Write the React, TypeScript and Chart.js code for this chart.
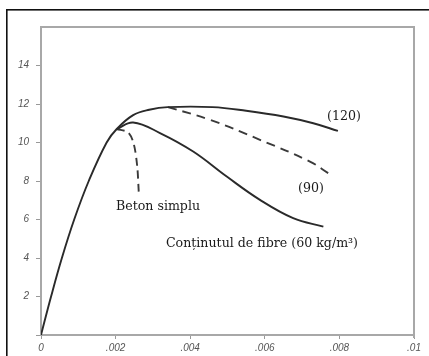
import React, { useEffect, useRef } from "react";
import { Chart, registerables } from "chart.js";

Chart.register(...registerables);

// Axis ticks
const xTickValues = [0, 0.002, 0.004, 0.006, 0.008, 0.01];
const xTickLabels = ["0", ".002", ".004", ".006", ".008", ".01"];
const yTickValues = [0, 2, 4, 6, 8, 10, 12, 14];
const yTickLabels = ["", "2", "4", "6", "8", "10", "12", "14"];

// Curve (120) - solid
const fiber120X = [0, 0.00027, 0.00056, 0.00089, 0.00128, 0.00176, 0.00203, 0.00247, 0.0029, 0.0034, 0.0046, 0.0055, 0.0065, 0.0073, 0.00796];
const fiber120Y = [0, 2, 4, 6, 8, 10, 10.7, 11.42, 11.7, 11.84, 11.84, 11.65, 11.35, 11.0, 10.6];

// Curve (90) - dashed
const fiber90X = [0.0034, 0.00453, 0.00587, 0.00721, 0.0077];
const fiber90Y = [11.84, 11.18, 10.14, 9.01, 8.41];

// Curve (60) - solid
const fiber60X = [0.00203, 0.00247, 0.00319, 0.00408, 0.00498, 0.00587, 0.00676, 0.00757];
const fiber60Y = [10.7, 11.04, 10.49, 9.53, 8.23, 7.02, 6.07, 5.63];

// Beton simplu - dashed
const plainX = [0.00203, 0.00234, 0.00249, 0.00258, 0.00262];
const plainY = [10.7, 10.52, 9.9, 8.75, 7.45];

// Curve labels (text + data-space anchor, left/middle)
const labelTexts = ["(120)", "(90)", "Beton simplu", "Conținutul de fibre (60 kg/m³)"];
const labelXs = [0.00767, 0.00689, 0.00201, 0.00335];
const labelYs = [11.34, 7.59, 6.66, 4.73];

const zip = (xs: number[], ys: number[]) => xs.map((x, i) => ({ x, y: ys[i] }));

const framePlugin = {
  id: "frame",
  beforeDraw(chart: any) {
    const ctx = chart.ctx;
    ctx.save();
    ctx.fillStyle = "#ffffff";
    ctx.fillRect(0, 0, chart.width, chart.height);
    ctx.fillStyle = "#111111";
    ctx.fillRect(6, 9, 1.6, chart.height - 9);
    ctx.fillRect(6, 9, chart.width - 6, 1.6);
    ctx.restore();
  },
  afterDraw(chart: any) {
    const ctx = chart.ctx;
    const a = chart.chartArea;
    ctx.save();
    ctx.strokeStyle = "#a8a8a8";
    ctx.lineWidth = 2;
    ctx.beginPath();
    ctx.moveTo(a.left, a.top);
    ctx.lineTo(a.right, a.top);
    ctx.lineTo(a.right, a.bottom + 3);
    ctx.stroke();
    const xs = chart.scales.x;
    const ys = chart.scales.y;
    ctx.fillStyle = "#1a1a1a";
    ctx.font = "12.6px 'DejaVu Serif'";
    ctx.textAlign = "left";
    ctx.textBaseline = "middle";
    labelTexts.forEach((t, i) => {
      ctx.fillText(t, xs.getPixelForValue(labelXs[i]), ys.getPixelForValue(labelYs[i]));
    });
    ctx.restore();
  },
};

export default function App() {
  const ref = useRef<HTMLCanvasElement | null>(null);
  useEffect(() => {
    if (!ref.current) return;
    const lineBase = {
      showLine: true,
      pointRadius: 0,
      borderColor: "#2a2a2a",
      borderWidth: 1.9,
      fill: false,
      tension: 0.4,
    };
    const chart = new Chart(ref.current, {
      type: "scatter",
      data: {
        datasets: [
          { ...lineBase, label: "(120)", data: zip(fiber120X, fiber120Y) },
          { ...lineBase, label: "(90)", data: zip(fiber90X, fiber90Y), borderDash: [9, 6], borderColor: "#3a3a3a" },
          { ...lineBase, label: "(60)", data: zip(fiber60X, fiber60Y) },
          { ...lineBase, label: "Beton simplu", data: zip(plainX, plainY), borderDash: [8, 5], borderColor: "#3a3a3a", tension: 0.3 },
        ],
      },
      options: {
        responsive: false,
        maintainAspectRatio: false,
        animation: false,
        layout: { padding: { left: 0, top: 27, right: 15, bottom: 0 } },
        plugins: { legend: { display: false }, tooltip: { enabled: false } },
        scales: {
          x: {
            type: "linear",
            min: 0,
            max: 0.01,
            afterBuildTicks: (s: any) => {
              s.ticks = xTickValues.map((v) => ({ value: v }));
            },
            afterFit: (s: any) => {
              s.height = 21;
            },
            grid: { drawOnChartArea: false, drawTicks: true, tickLength: 4, color: "#999999" },
            border: { display: true, color: "#a8a8a8", width: 2 },
            ticks: {
              padding: 3,
              maxRotation: 0,
              autoSkip: false,
              color: "#555555",
              font: { family: "'Liberation Sans', Arial, sans-serif", style: "italic", size: 10 },
              callback: (_v: any, i: number) => xTickLabels[i],
            },
          },
          y: {
            type: "linear",
            min: 0,
            max: 16,
            afterBuildTicks: (s: any) => {
              s.ticks = yTickValues.map((v) => ({ value: v }));
            },
            afterFit: (s: any) => {
              s.width = 41;
            },
            grid: { drawOnChartArea: false, drawTicks: true, tickLength: 5, color: "#999999" },
            border: { display: true, color: "#a8a8a8", width: 2 },
            ticks: {
              padding: 7,
              autoSkip: false,
              color: "#555555",
              font: { family: "'Liberation Sans', Arial, sans-serif", style: "italic", size: 10 },
              callback: (_v: any, i: number) => yTickLabels[i],
            },
          },
        },
      },
      plugins: [framePlugin],
    } as any);
    return () => chart.destroy();
  }, []);
  return (
    <div style={{ position: "absolute", left: 0, top: 0, width: 429, height: 356, background: "#fff" }}>
      <canvas ref={ref} width={429} height={356} style={{ display: "block", width: 429, height: 356 }} />
    </div>
  );
}
